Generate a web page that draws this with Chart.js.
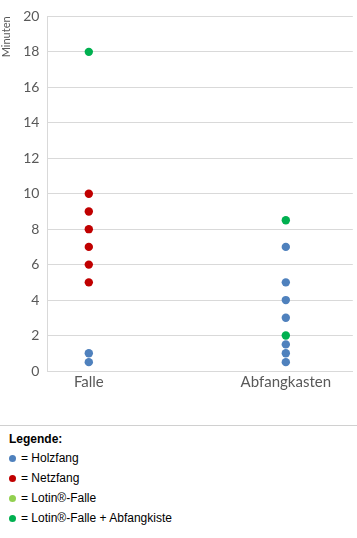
<!DOCTYPE html>
<html><head><meta charset="utf-8">
<script src="https://cdn.jsdelivr.net/npm/chart.js@4/dist/chart.umd.min.js"></script>
<style>
html,body{margin:0;padding:0;background:#fff;}
#wrap{position:relative;width:357px;height:538px;overflow:hidden;}
#cv{position:absolute;left:0;top:0;}
#sep{position:absolute;left:0;top:425px;width:357px;height:0;border-top:1px solid #d0d0d0;}
#legend{position:absolute;left:9px;top:430px;font-family:"Liberation Sans",Arial,sans-serif;font-size:12px;color:#000;}
#legend .t{font-weight:bold;height:18px;line-height:18px;}
#legend .i{height:20px;line-height:20px;display:flex;align-items:center;}
#legend .d{width:7px;height:7px;border-radius:50%;display:inline-block;margin-right:5px;}
</style></head>
<body><div id="wrap"><canvas id="cv" width="357" height="393"></canvas><div id="sep"></div><div id="legend"></div></div>
<script>
const categories = ["Falle", "Abfangkasten"];
const seriesNames = ["Holzfang", "Netzfang", "Lotin®-Falle", "Lotin®-Falle + Abfangkiste"];
const seriesColors = ["#4f81bd", "#c00000", "#92d050", "#00b050"];
// minutes per series and category
const holzfangFalle = [0.5, 1];
const holzfangAbfang = [0.5, 1, 1.5, 3, 4, 5, 7];
const netzfangFalle = [5, 6, 7, 8, 9, 10];
const netzfangAbfang = [];
const lotinFalle = [];
const lotinAbfang = [];
const lotinKisteFalle = [18];
const lotinKisteAbfang = [2, 8.5];
const yTicks = [0, 2, 4, 6, 8, 10, 12, 14, 16, 18, 20];

function pts(a, b){ return a.map(v=>({x:0,y:v})).concat(b.map(v=>({x:1,y:v}))); }
const seriesData = [
  pts(holzfangFalle, holzfangAbfang),
  pts(netzfangFalle, netzfangAbfang),
  pts(lotinFalle, lotinAbfang),
  pts(lotinKisteFalle, lotinKisteAbfang)
];

const grid = '#d9d9d9';
new Chart(document.getElementById('cv'), {
  type: 'scatter',
  data: { datasets: seriesNames.map((n,i)=>({
    label: n, data: seriesData[i], backgroundColor: seriesColors[i], borderColor: seriesColors[i],
    pointRadius: 4.2, pointHoverRadius: 4.2, borderWidth: 0 })) },
  options: {
    responsive: false, animation: false,
    layout: { padding: { top: 6, right: 0, left: 0, bottom: 0 } },
    plugins: { legend: { display: false }, tooltip: { enabled: false } },
    scales: {
      x: {
        type: 'linear', min: -0.21, max: 1.34,
        afterBuildTicks: s => { s.ticks = [{value:0},{value:1}]; },
        ticks: { callback: v => categories[v], color: '#595959', font: { family: 'Lato', size: 15 }, padding: 2, maxRotation: 0 },
        grid: { display: false, drawTicks: false },
        border: { display: true, color: grid, width: 1 }
      },
      y: {
        min: 0, max: 20,
        afterBuildTicks: s => { s.ticks = yTicks.map(v=>({value:v})); },
        ticks: { color: '#595959', font: { family: 'Lato', size: 14 }, padding: 8 },
        grid: { color: grid, lineWidth: 1, drawTicks: false },
        border: { display: true, color: grid, width: 1 },
        title: { display: true, text: 'Minuten', align: 'end', color: '#595959', font: { family: 'Lato', size: 11 }, padding: { top: 0, bottom: 2 } }
      }
    }
  }
});

const lg = document.getElementById('legend');
let html = '<div class="t">Legende:</div>';
seriesNames.forEach((n,i)=>{ html += '<div class="i"><span class="d" style="background:'+seriesColors[i]+'"></span>= '+n+'</div>'; });
lg.innerHTML = html;
</script></body></html>
